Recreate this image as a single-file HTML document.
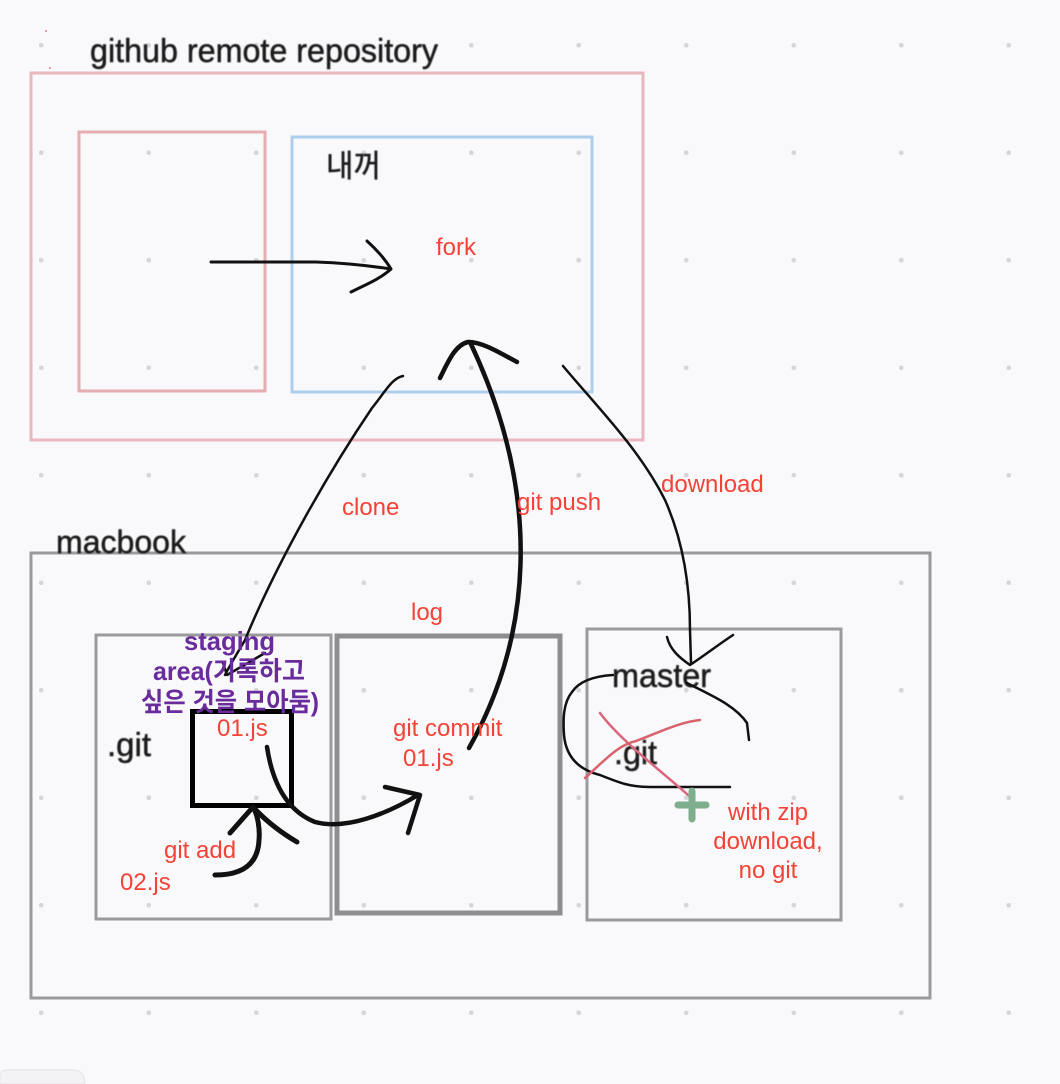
<!DOCTYPE html>
<html lang="ko"><head><meta charset="utf-8"><title>git diagram</title>
<style>
html,body{margin:0;padding:0;background:#f9f8fb}
svg{display:block}
text{font-family:"Liberation Sans","Noto Sans CJK KR",sans-serif}
.r{fill:#f44336;font-size:24px}
.p{fill:#6a2c9c;font-size:26px;font-weight:bold}
.k{fill:#1c1c1c;stroke:#1c1c1c;stroke-width:.5;filter:url(#b)}
.c{fill:none;stroke:#111;stroke-linecap:round;stroke-linejoin:round}
</style></head><body>
<svg width="1060" height="1084" viewBox="0 0 1060 1084" xmlns="http://www.w3.org/2000/svg">
<defs>
<filter id="b" x="-5%" y="-20%" width="110%" height="140%"><feGaussianBlur stdDeviation="0.5"/></filter>
<pattern id="d" x="35.5" y="39.5" width="107.5" height="107.5" patternUnits="userSpaceOnUse"><rect x="3.5" y="3.500" width="4.5" height="4.5" rx="2" fill="#d6d5d9"/></pattern>
</defs>
<rect width="1060" height="1084" fill="#f9f8fb"/>
<rect x="0" y="0" width="1060" height="1030" fill="url(#d)"/>
<path d="M0 1084V1078Q0 1070 8 1070H72Q85 1070 85 1084Z" fill="#f3f2f5" stroke="#e4e3e7"/>
<rect x="45" y="30" width="2" height="2" fill="#eb9aa0"/><rect x="49" y="67" width="2" height="2" fill="#eb9aa0"/>

<g fill="none">
<rect x="31" y="73" width="612" height="367" stroke="#e9b8bc" stroke-width="3"/>
<rect x="79" y="132" width="186" height="259" stroke="#e7aeb2" stroke-width="3"/>
<rect x="292" y="137" width="300" height="255" stroke="#aecfec" stroke-width="3"/>
<rect x="31" y="553" width="899" height="445" stroke="#9a9a9c" stroke-width="3"/>
<rect x="96" y="635" width="235" height="284" stroke="#9a9a9c" stroke-width="3"/>
<rect x="337" y="636" width="223" height="277" stroke="#8e8e90" stroke-width="5"/>
<rect x="587" y="629" width="254" height="291" stroke="#9a9a9c" stroke-width="3"/>
<rect x="192.500" y="711.500" width="99" height="94" stroke="#000" stroke-width="5"/>
</g>

<text class="k" x="90" y="62" font-size="33" textLength="348" lengthAdjust="spacingAndGlyphs">github remote repository</text>
<text class="k" x="326" y="177" font-size="31" textLength="55" lengthAdjust="spacingAndGlyphs">내꺼</text>
<text class="k" x="56" y="553" font-size="32" textLength="130" lengthAdjust="spacingAndGlyphs">macbook</text>
<text class="k" x="107" y="756" font-size="33" textLength="44" lengthAdjust="spacingAndGlyphs">.git</text>
<text class="k" x="612" y="687" font-size="33" textLength="99" lengthAdjust="spacingAndGlyphs">master</text>
<text class="k" x="614" y="764" font-size="33" textLength="43" lengthAdjust="spacingAndGlyphs">.git</text>

<path class="c" stroke-width="3" d="M211 262H316C345 263 365 265 391 269M367 241C377 250 385 259 391 269C380 279 365 285 351 292"/>
<path class="c" stroke-width="2.500" d="M403 376C392 378 385 392 372 408C330 470 278 560 245 640C238 652 230 665 225 675M223 663L227 675L265 653"/>
<path class="c" stroke-width="2.500" d="M563 366C600 410 640 450 665 500C685 545 690 590 690 630L691 663M667 637C670 650 680 658 690 665C705 655 718 645 733 635"/>
<path class="c" stroke-width="2.500" d="M613 675C596 676 580 680 572 692C563 703 563 720 564 735C566 758 580 770 600 775C620 783 630 787 650 787H730M687 683C710 695 735 705 747 723L749 740"/>

<path d="M600 713C620 740 660 770 688 795" fill="none" stroke="#d9667d" stroke-width="2.500" stroke-linecap="round"/>
<path d="M585 778C605 760 618 745 636 741C660 732 680 722 700 720" fill="none" stroke="#d8636c" stroke-width="2.500" stroke-linecap="round"/>
<path d="M692 791V819M678 805H706" fill="none" stroke="#7fae8e" stroke-width="7" stroke-linecap="round"/>

<path class="c" stroke-width="4.500" d="M469 748C530 640 545 500 470 342M440 378C448 362 455 345 468 342C483 342 500 353 517 362"/>
<path class="c" stroke-width="4.500" d="M267 747C272 780 285 810 315 822C345 830 385 815 418 795M385 787L420 795L408 833"/>
<path class="c" stroke-width="5" d="M215 875C245 875 258 862 259 840C260 830 258 815 253 807M230 833L253 807C265 820 280 832 297 842"/>

<text class="p" x="184" y="650" textLength="91" lengthAdjust="spacingAndGlyphs">staging</text>
<text class="p" x="153" y="680" textLength="152" lengthAdjust="spacingAndGlyphs">area(기록하고</text>
<text class="p" x="141" y="711" textLength="178" lengthAdjust="spacingAndGlyphs">싶은 것을 모아둠)</text>
<g class="r">
<text class="r" x="436" y="255">fork</text>
<text class="r" x="342" y="515">clone</text>
<text class="r" x="517" y="510">git push</text>
<text class="r" x="661" y="492">download</text>
<text class="r" x="411" y="620">log</text>
<text class="r" x="217" y="736">01.js</text>
<text class="r" x="393" y="736">git commit</text>
<text class="r" x="403" y="766">01.js</text>
<text class="r" x="164" y="858">git add</text>
<text class="r" x="120" y="890">02.js</text>
<text class="r" x="768" y="820" text-anchor="middle">with zip</text>
<text class="r" x="768" y="849" text-anchor="middle">download,</text>
<text class="r" x="768" y="878" text-anchor="middle">no git</text>
</g>
</svg>
</body></html>
